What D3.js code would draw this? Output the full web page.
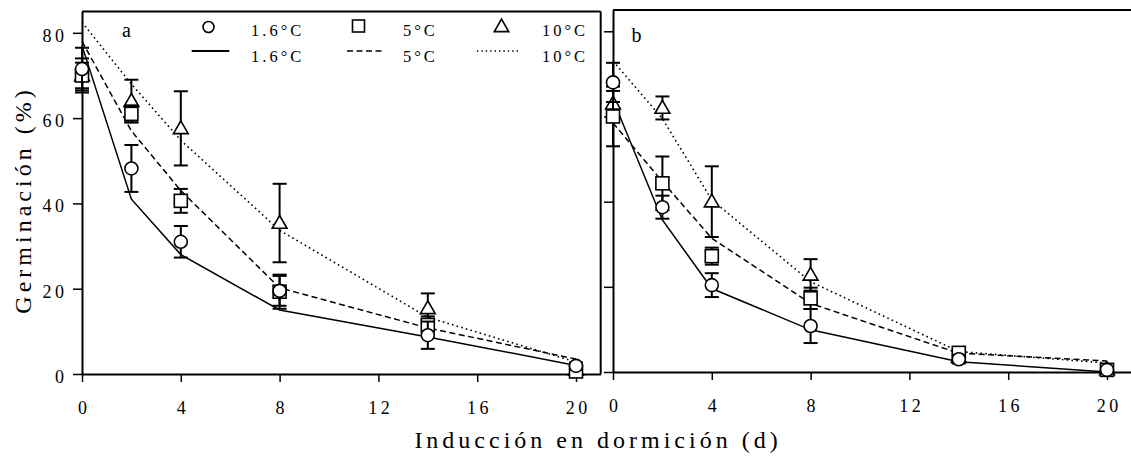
<!DOCTYPE html>
<html>
<head>
<meta charset="utf-8">
<script src="https://cdn.jsdelivr.net/npm/d3@7"></script>
<style>
  html, body { margin: 0; padding: 0; background: #fff; }
  svg { display: block; }
  text { font-family: "Liberation Serif", "Times New Roman", serif; fill: #000; }
</style>
</head>
<body>
<svg id="chart" width="1131" height="457"></svg>
<script>
// ---- data ----
const days = [0, 2, 4, 8, 14, 20];
const xTicks = [0, 4, 8, 12, 16, 20];
const yTicks = [0, 20, 40, 60, 80];
const seriesLabels = ["1.6\u00B0C", "5\u00B0C", "10\u00B0C"];
const panelLabels = ["a", "b"];
const xTitle = "Inducción en dormición (d)";
const yTitle = "Germinación (%)";

// panel a observed (mean, error)
const a16 = [71.5, 48.2, 31.0, 19.5, 9.1, 1.9];
const a16err = [5, 5.5, 3.7, 3.5, 3.2, 0.8];
const a5 = [70, 61, 40.6, 19.3, 11.5, 0.6];
const a5err = [4, 2, 2.8, 4, 2, 0.8];
const a10 = [70, 64, 57.6, 35.4, 15.4, 1];
const a10err = [3, 5, 8.7, 9.2, 3.5, 1];
// panel a fitted
const fa16 = [77, 41, 28, 15, 8.7, 2];
const fa5 = [78, 57, 43, 20.2, 10.8, 3.5];
const fa10 = [82.5, 68, 54.8, 33.7, 13.3, 2.8];

// panel b observed
const b16 = [68, 38.7, 20.4, 10.8, 3, 0.5];
const b16err = [4.6, 2.7, 2.8, 4, 1, 0.5];
const b5 = [60, 44.3, 27.2, 17.3, 4.5, 0.5];
const b5err = [7, 6.3, 2, 2.5, 1, 0.5];
const b10 = [63, 62, 40, 22.8, 3.5, 0.6];
const b10err = [3, 2.7, 8.3, 3.7, 1, 0.6];
// panel b fitted
const fb16 = [64, 35.7, 19.6, 9.9, 2.4, 0];
const fb5 = [58.5, 44.7, 31.4, 16.1, 4.4, 2.6];
const fb10 = [73, 59.5, 40.4, 21.2, 4.8, 2.1];

// ---- drawing ----
const svg = d3.select("#chart");
const FONT = "Liberation Serif, Times New Roman, serif";
const dashStyles = [null, "6,3.5", "1.6,3.2"];
const symbolTypes = ["circle", "square", "triangle"];

function drawMarker(g, type, cx, cy) {
  if (type === "circle") {
    g.append("circle").attr("cx", cx).attr("cy", cy).attr("r", 6.5)
      .attr("fill", "#fff").attr("stroke", "#000").attr("stroke-width", 1.6);
  } else if (type === "square") {
    g.append("rect").attr("x", cx - 6.5).attr("y", cy - 6.5).attr("width", 13).attr("height", 13)
      .attr("fill", "#fff").attr("stroke", "#000").attr("stroke-width", 1.6);
  } else {
    const s = d3.symbol().type(d3.symbolTriangle).size(95)();
    g.append("path").attr("d", s).attr("transform", `translate(${cx},${cy + 1})`)
      .attr("fill", "#fff").attr("stroke", "#000").attr("stroke-width", 1.6);
  }
}

function panel(cfg) {
  const x = d3.scaleLinear().domain([0, 21]).range(cfg.xr);
  const y = d3.scaleLinear().domain([0, 85]).range(cfg.yr);
  const g = svg.append("g");

  // axes
  const ya = g.append("g").attr("transform", `translate(${cfg.xr[0]},0)`)
    .call(d3.axisLeft(y).tickValues(yTicks).tickSize(9).tickSizeOuter(0).tickPadding(5.5)
      .tickFormat(cfg.yLabels ? d3.format("d") : () => ""));
  ya.select(".domain").attr("stroke-width", 2);
  ya.selectAll(".tick line").attr("stroke-width", 1.5);
  ya.selectAll("text").attr("font-family", FONT).attr("font-size", 18)
    .attr("letter-spacing", 3.5).attr("dy", "0.47em").attr("fill", "#000");

  const xa = g.append("g").attr("transform", `translate(0,${cfg.yr[0]})`)
    .call(d3.axisBottom(x).tickValues(xTicks).tickSize(8).tickSizeOuter(0).tickPadding(19));
  xa.select(".domain").attr("stroke-width", 2);
  xa.selectAll(".tick line").attr("stroke-width", 1.5);
  xa.selectAll("text").attr("font-family", FONT).attr("font-size", 18)
    .attr("letter-spacing", 3.5).attr("dx", 1.75).attr("fill", "#000");

  // frame
  g.append("line").attr("x1", cfg.xr[0]).attr("x2", cfg.frameRight).attr("y1", cfg.yr[1]).attr("y2", cfg.yr[1])
    .attr("stroke", "#000").attr("stroke-width", 2.2);
  if (cfg.rightBorder) {
    g.append("line").attr("x1", cfg.frameRight).attr("x2", cfg.frameRight).attr("y1", cfg.yr[1]).attr("y2", cfg.yr[0])
      .attr("stroke", "#000").attr("stroke-width", 2);
  }

  // fitted lines
  const line = d3.line().x((d, i) => x(days[i])).y(d => y(d));
  cfg.fits.forEach((f, k) => {
    const p = g.append("path").attr("d", line(f)).attr("fill", "none")
      .attr("stroke", "#000").attr("stroke-width", k === 2 ? 1.6 : 1.5);
    if (dashStyles[k]) p.attr("stroke-dasharray", dashStyles[k]);
  });

  // observed points with error bars
  [2, 1, 0].forEach(k => {
    const vals = cfg.obs[k], errs = cfg.errs[k];
    vals.forEach((v, i) => {
      const cx = x(days[i]);
      const e = errs[i];
      const yt = y(v + e), yb = y(Math.max(0, v - e));
      g.append("line").attr("x1", cx).attr("x2", cx).attr("y1", yt).attr("y2", yb)
        .attr("stroke", "#000").attr("stroke-width", 2);
      [yt, yb].forEach(yy => g.append("line").attr("x1", cx - 7).attr("x2", cx + 7)
        .attr("y1", yy).attr("y2", yy).attr("stroke", "#000").attr("stroke-width", 2));
      drawMarker(g, symbolTypes[k], cx, y(v));
    });
  });

  // panel label
  g.append("text").attr("x", cfg.labelPos[0]).attr("y", cfg.labelPos[1])
    .attr("font-size", 20).attr("text-anchor", "middle").text(cfg.label);
}

panel({
  xr: [82, 600.7], yr: [374, 11.5], frameRight: 600.7, rightBorder: true, yLabels: true,
  fits: [fa16, fa5, fa10], obs: [a16, a5, a10], errs: [a16err, a5err, a10err],
  label: panelLabels[0], labelPos: [126.5, 37]
});
panel({
  xr: [613, 1131.7], yr: [372, 10], frameRight: 1131, rightBorder: false, yLabels: false,
  fits: [fb16, fb5, fb10], obs: [b16, b5, b10], errs: [b16err, b5err, b10err],
  label: panelLabels[1], labelPos: [636.5, 42]
});

// legend
const leg = svg.append("g");
const legSym = [[208.5, 27], [358.5, 26], [501.5, 27.5]];
const legLine = [[191.7, 229.3], [347, 384], [477, 520]];
const legText = [251, 403, 542];
symbolTypes.forEach((t, k) => {
  if (t === "circle") {
    leg.append("circle").attr("cx", legSym[k][0]).attr("cy", legSym[k][1]).attr("r", 5.5)
      .attr("fill", "none").attr("stroke", "#000").attr("stroke-width", 1.6);
  } else if (t === "square") {
    leg.append("rect").attr("x", legSym[k][0] - 6).attr("y", legSym[k][1] - 6).attr("width", 12).attr("height", 12)
      .attr("fill", "none").attr("stroke", "#000").attr("stroke-width", 1.6);
  } else {
    leg.append("path").attr("d", d3.symbol().type(d3.symbolTriangle).size(90)())
      .attr("transform", `translate(${legSym[k][0]},${legSym[k][1]})`)
      .attr("fill", "none").attr("stroke", "#000").attr("stroke-width", 1.6);
  }
  const l = leg.append("line").attr("x1", legLine[k][0]).attr("x2", legLine[k][1])
    .attr("y1", 51).attr("y2", 51).attr("stroke", "#000").attr("stroke-width", k === 0 ? 2 : 1.6);
  if (dashStyles[k]) l.attr("stroke-dasharray", k === 1 ? "6,3.5" : "1.4,3");
  [36, 61.5].forEach(yy => leg.append("text").attr("x", legText[k]).attr("y", yy)
    .attr("font-size", 16.5).attr("letter-spacing", 3).text(seriesLabels[k]));
});

// axis titles
svg.append("text").attr("x", 598).attr("y", 448).attr("text-anchor", "middle")
  .attr("font-size", 24).attr("letter-spacing", 4).text(xTitle);
svg.append("text").attr("transform", "translate(31,200) rotate(-90)").attr("text-anchor", "middle")
  .attr("font-size", 24).attr("letter-spacing", 4).text(yTitle);
</script>
</body>
</html>
